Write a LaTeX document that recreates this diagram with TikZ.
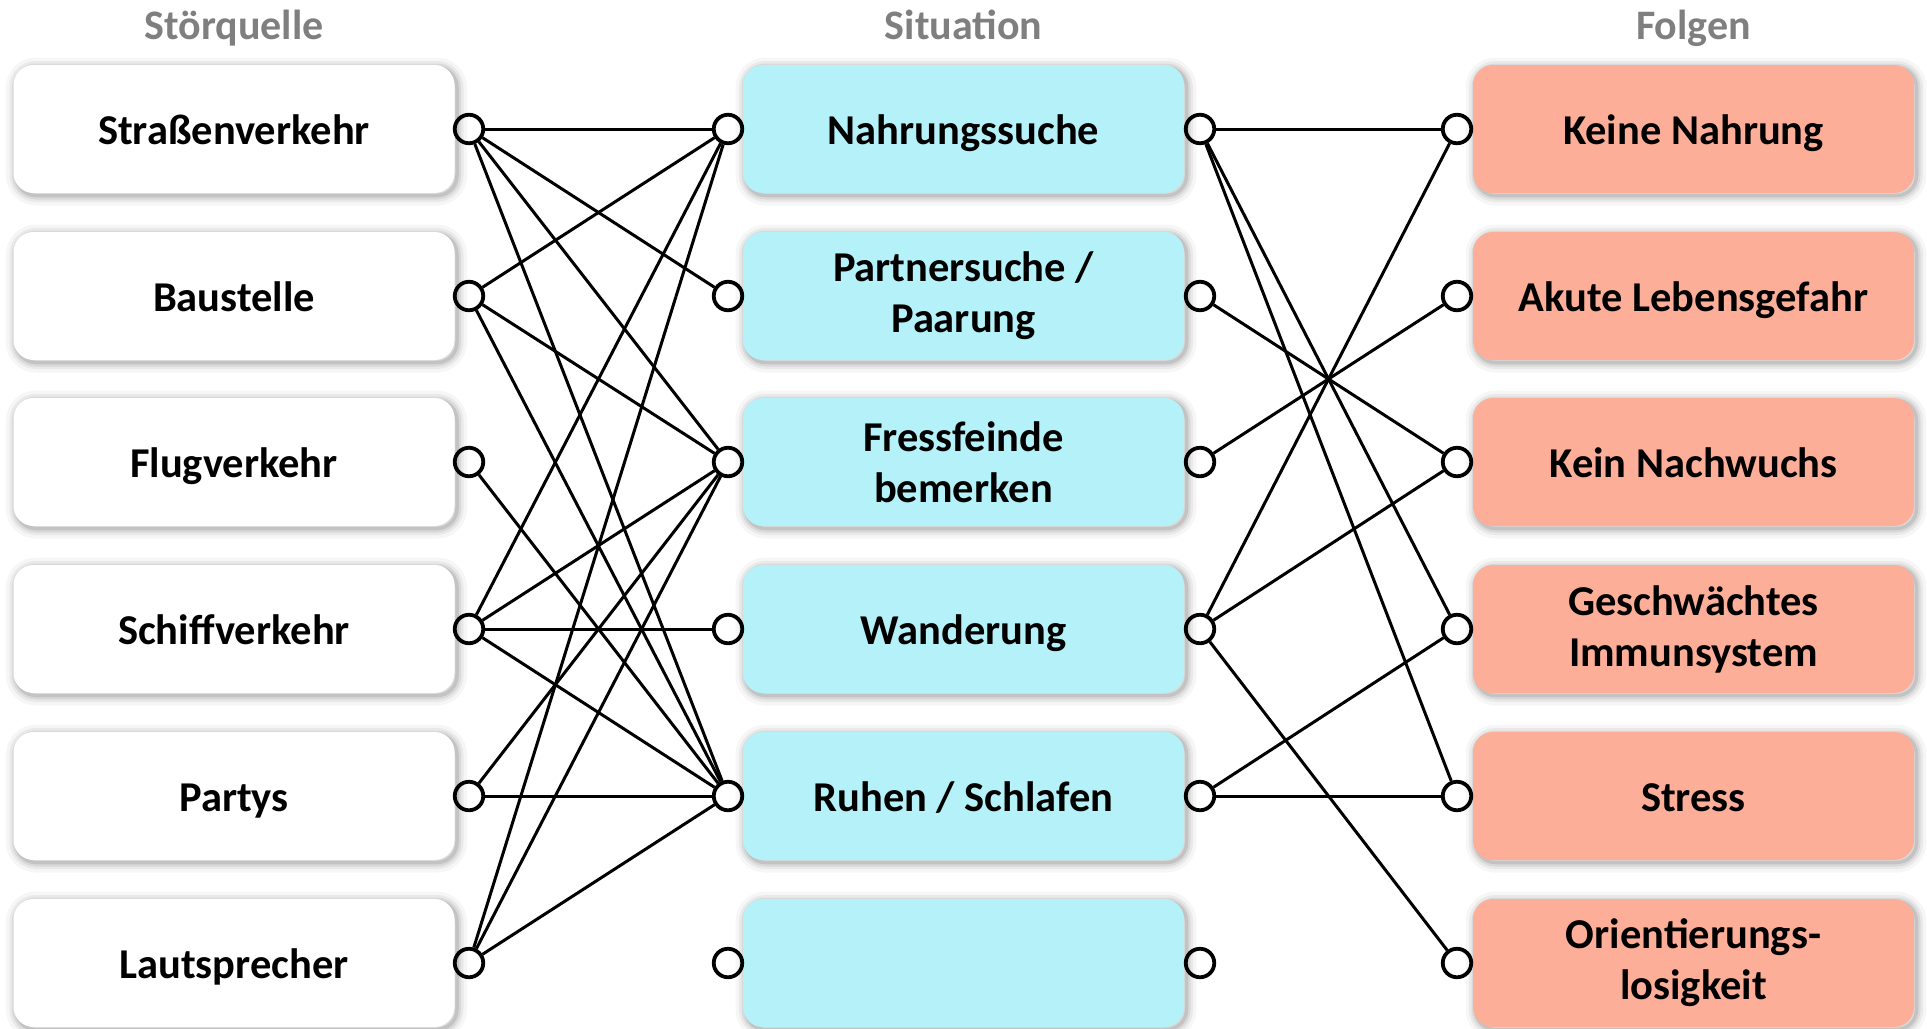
\documentclass[tikz,border=0pt]{standalone}
\usepackage{fontspec}
\setmainfont{Carlito}
\usetikzlibrary{shadows}
\definecolor{cyanbox}{RGB}{180,241,248}
\definecolor{salmonbox}{RGB}{252,174,152}
\definecolor{headgray}{RGB}{127,127,127}
\begin{document}
\begin{tikzpicture}[x=1pt,y=-1pt,
  softshadow/.style={
    general shadow={draw=black,line width=20pt,opacity=.035,shadow xshift=2.5pt,shadow yshift=-2.5pt},
    general shadow={draw=black,line width=13pt,opacity=.05,shadow xshift=2.5pt,shadow yshift=-2.5pt},
    general shadow={draw=black,line width=8pt,opacity=.07,shadow xshift=2.5pt,shadow yshift=-2.5pt},
    general shadow={draw=black,line width=3.5pt,opacity=.1,shadow xshift=2.5pt,shadow yshift=-2.5pt}},
  box/.style={softshadow, rounded corners=20pt, minimum width=441pt, minimum height=128pt,
    inner sep=0pt, align=center, font=\fontsize{42.5}{51}\selectfont\bfseries},
  oneline/.style={text height=30pt, text depth=0pt},
  twoline/.style={text height=30pt, text depth=56pt},
  srcbox/.style={box, fill=white},
  sitbox/.style={box, fill=cyanbox},
  resbox/.style={box, fill=salmonbox},
  head/.style={font=\fontsize{42}{46}\selectfont\bfseries, text=headgray, anchor=base},
  port/.style={circle, draw=black, line width=3.8pt, minimum size=28.5pt, inner sep=0pt},
  conn/.style={draw=black, line width=3pt}]
\useasboundingbox (0,0) rectangle (1927,1028);

% headers
\node[head] (h1) at (234,39) {Störquelle};
\node[head] (h2) at (963.5,39) {Situation};
\node[head] (h3) at (1693.5,39) {Folgen};

% source boxes
\node[srcbox,oneline] (s1) at (234,129) {Straßenverkehr};
\node[srcbox,oneline] (s2) at (234,296) {Baustelle};
\node[srcbox,oneline] (s3) at (234,462) {Flugverkehr};
\node[srcbox,oneline] (s4) at (234,629) {Schiffverkehr};
\node[srcbox,oneline] (s5) at (234,796) {Partys};
\node[srcbox,oneline] (s6) at (234,963) {Lautsprecher};

% situation boxes
\node[sitbox,oneline] (m1) at (963.5,129) {Nahrungssuche};
\node[sitbox] (m2) at (963.5,296) {Partnersuche /\\Paarung};
\node[sitbox] (m3) at (963.5,462) {Fressfeinde\\bemerken};
\node[sitbox,oneline] (m4) at (963.5,629) {Wanderung};
\node[sitbox,oneline] (m5) at (963.5,796) {Ruhen / Schlafen};
\node[sitbox] (m6) at (963.5,963) {};

% result boxes
\node[resbox,oneline] (r1) at (1693.5,129) {Keine Nahrung};
\node[resbox,oneline] (r2) at (1693.5,296) {Akute Lebensgefahr};
\node[resbox,oneline] (r3) at (1693.5,462) {Kein Nachwuchs};
\node[resbox] (r4) at (1693.5,629) {Geschwächtes\\Immunsystem};
\node[resbox,oneline] (r5) at (1693.5,796) {Stress};
\node[resbox] (r6) at (1693.5,963) {Orientierungs-\\losigkeit};

% ports
\foreach \i/\y in {1/129,2/296,3/462,4/629,5/796,6/963}{
  \node[port] (a\i) at (469,\y) {};
  \node[port] (b\i) at (728,\y) {};
  \node[port] (c\i) at (1200,\y) {};
  \node[port] (d\i) at (1457,\y) {};
}

% connectors source -> situation
\draw[conn] (a1) -- (b1);
\draw[conn] (a1) -- (b2);
\draw[conn] (a1) -- (b3);
\draw[conn] (a1) -- (b5);
\draw[conn] (a2) -- (b1);
\draw[conn] (a2) -- (b3);
\draw[conn] (a2) -- (b5);
\draw[conn] (a3) -- (b5);
\draw[conn] (a4) -- (b1);
\draw[conn] (a4) -- (b3);
\draw[conn] (a4) -- (b4);
\draw[conn] (a4) -- (b5);
\draw[conn] (a5) -- (b3);
\draw[conn] (a5) -- (b5);
\draw[conn] (a6) -- (b1);
\draw[conn] (a6) -- (b3);
\draw[conn] (a6) -- (b5);

% connectors situation -> result
\draw[conn] (c1) -- (d1);
\draw[conn] (c1) -- (d4);
\draw[conn] (c1) -- (d5);
\draw[conn] (c2) -- (d3);
\draw[conn] (c3) -- (d2);
\draw[conn] (c4) -- (d1);
\draw[conn] (c4) -- (d3);
\draw[conn] (c4) -- (d6);
\draw[conn] (c5) -- (d4);
\draw[conn] (c5) -- (d5);
\end{tikzpicture}
\end{document}
